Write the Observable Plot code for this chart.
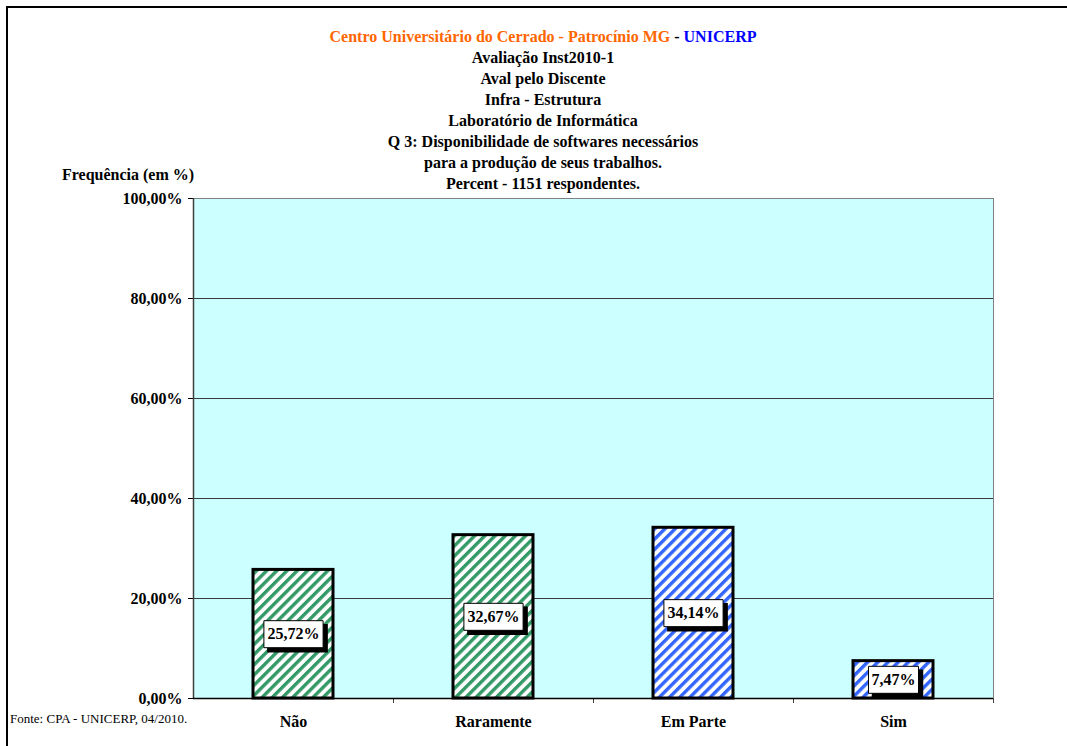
<!DOCTYPE html>
<html>
<head>
<meta charset="utf-8">
<script src="https://cdn.jsdelivr.net/npm/d3@7"></script>
<script src="https://cdn.jsdelivr.net/npm/@observablehq/plot@0.6"></script>
<style>
  html, body { margin: 0; padding: 0; background: #fff; }
  #wrap { position: relative; width: 1067px; height: 746px; overflow: hidden; font-family: "Liberation Serif", "Times New Roman", serif; }
  #frame { position: absolute; left: 6px; top: 6px; width: 1100px; height: 800px; border-left: 2px solid #000; border-top: 2px solid #000; box-sizing: border-box; }
  #titles { position: absolute; left: 243px; width: 600px; top: 26px; text-align: center; font-weight: bold; font-size: 16px; line-height: 21px; color: #000; }
  #ylab { position: absolute; left: 62px; top: 165px; font-weight: bold; font-size: 16px; line-height: 20px; }
  #foot { position: absolute; left: 10px; top: 711px; font-size: 13px; line-height: 16px; }
  #chart { position: absolute; left: 0; top: 0; }
</style>
</head>
<body>
<div id="wrap">
  <div id="chart"></div>
  <div id="frame"></div>
  <div id="titles"></div>
  <div id="ylab">Frequência (em %)</div>
  <div id="foot">Fonte: CPA - UNICERP, 04/2010.</div>
</div>
<script>
const categories = ["Não", "Raramente", "Em Parte", "Sim"];
const values = [25.72, 32.67, 34.14, 7.47];
const groups = ["green", "green", "blue", "blue"];
const yTicks = [0, 20, 40, 60, 80, 100];
const titleLines = [
  "Avaliação Inst2010-1",
  "Aval pelo Discente",
  "Infra - Estrutura",
  "Laboratório de Informática",
  "Q 3: Disponibilidade de softwares necessários",
  "para a produção de seus trabalhos.",
  "Percent - 1151 respondentes."
];

const fmt = v => v.toFixed(2).replace(".", ",") + "%";
const data = categories.map((c, i) => ({cat: c, value: values[i], group: groups[i], label: fmt(values[i])}));

// titles
const t = document.getElementById("titles");
t.innerHTML = '<div><span style="color:#ff6600">Centro Universitário do Cerrado - Patrocínio MG</span> - <span style="color:#0000ff">UNICERP</span></div>' +
  titleLines.map(s => `<div>${s}</div>`).join("");

function box(w, h) {
  return { draw(ctx) { ctx.rect(-w / 2, -h / 2, w, h); } };
}
const boxSym = d => box(d.label.length * 9.2 + 4, 27);

const plot = Plot.plot({
  width: 1067,
  height: 746,
  marginLeft: 193,
  marginRight: 74,
  marginTop: 198,
  marginBottom: 48,
  style: { fontFamily: "Liberation Serif, Times New Roman, serif", fontSize: "16px", fontWeight: "bold", background: "transparent", color: "#000" },
  x: { domain: categories, paddingInner: 0.6, paddingOuter: 0.3, label: null },
  y: { domain: [0, 100], label: null },
  symbol: { type: "identity" },
  marks: [
    Plot.frame({ fill: "#ccffff", stroke: "#808080" }),
    Plot.ruleY(yTicks.filter(v => v > 0 && v < 100), { stroke: "#3a3a3a", strokeWidth: 1 }),
    Plot.axisY({ ticks: yTicks, tickFormat: fmt, tickSize: 5, tickPadding: 6, stroke: "#000", fontWeight: "bold", fontSize: 16 }),
    Plot.ruleX([0], { x: () => categories[0], dx: -100, stroke: "#404040", strokeWidth: 1.5 }),
    Plot.axisX(categories, { tickSize: 5, tickFormat: () => "", dx: 100, stroke: "#404040" }),
    Plot.axisX({ tickSize: 0, tickPadding: 17, fontWeight: "bold", fontSize: 16 }),
    Plot.ruleY([0], { stroke: "#000", strokeWidth: 1.5 }),
    Plot.barY(data.filter(d => d.group === "green"), { x: "cat", y: "value", fill: "url(#hatchGreen)", stroke: "#000", strokeWidth: 3 }),
    Plot.barY(data.filter(d => d.group === "blue"), { x: "cat", y: "value", fill: "url(#hatchBlue)", stroke: "#000", strokeWidth: 3 }),
    Plot.dot(data, { x: "cat", y: d => d.value / 2, symbol: boxSym, fill: "#000", stroke: "#000", dx: 4, dy: 4 }),
    Plot.dot(data, { x: "cat", y: d => d.value / 2, symbol: boxSym, fill: "#fff", stroke: "#000", strokeWidth: 1 }),
    Plot.text(data, { x: "cat", y: d => d.value / 2, text: "label", fontWeight: "bold", fontSize: 16, fill: "#000" })
  ]
});

const svg = d3.select(plot);
const defs = svg.insert("defs", ":first-child");
function hatch(id, color) {
  const p = defs.append("pattern").attr("id", id).attr("patternUnits", "userSpaceOnUse")
    .attr("width", 7.2).attr("height", 7.2).attr("patternTransform", "rotate(45)");
  p.append("rect").attr("width", 7.2).attr("height", 7.2).attr("fill", "#fff");
  p.append("rect").attr("width", 3.4).attr("height", 7.2).attr("fill", color);
}
hatch("hatchGreen", "#339966");
hatch("hatchBlue", "#3366ff");

document.getElementById("chart").appendChild(plot);
</script>
</body>
</html>
